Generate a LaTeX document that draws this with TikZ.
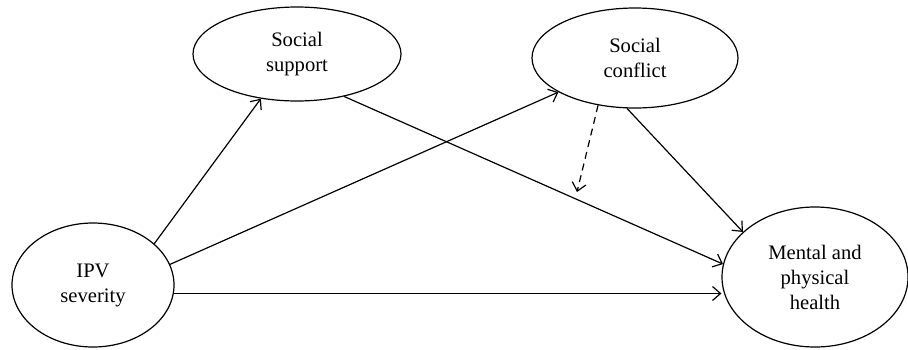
\documentclass[tikz,border=0pt]{standalone}
\usepackage{fontspec}
\setmainfont{Liberation Serif}
\usetikzlibrary{shapes,arrows.meta}

\begin{document}
\begin{tikzpicture}[x=.5pt,y=-.5pt,
  var/.style={draw,ellipse,line width=.6pt,inner sep=0pt,align=center,
    font=\fontsize{10.3}{12.5}\selectfont},
  path/.style={line width=.6pt,-{Straight Barb[length=4pt,width=7pt]}}]
\useasboundingbox (0,0) rectangle (908,349);
% variables
\node[var,minimum width=81pt,minimum height=62pt] (ipv) at (93,285) {IPV\\severity};
\node[var,minimum width=104pt,minimum height=47pt] (ss) at (297,54) {Social\\support};
\node[var,minimum width=103pt,minimum height=50pt] (sc) at (635,58) {Social\\conflict};
\node[var,minimum width=93pt,minimum height=70pt] (mental) at (815,277) {Mental and\\physical\\health};
% paths
\draw[path] (ipv.34) -- (ss.231);
\draw[path] (ipv.15) -- (sc.204);
\draw[path] (ipv.-6) -- (ipv.-6 -| mental.west);
\draw[path] (ss.-42) -- (mental.172);
\draw[path] (sc.261) -- (mental.148);
% moderation
\coordinate (mod) at (577,192);
\draw[path,dash pattern=on 3.5pt off 2.5pt] (sc.232) -- (mod);
\end{tikzpicture}
\end{document}
